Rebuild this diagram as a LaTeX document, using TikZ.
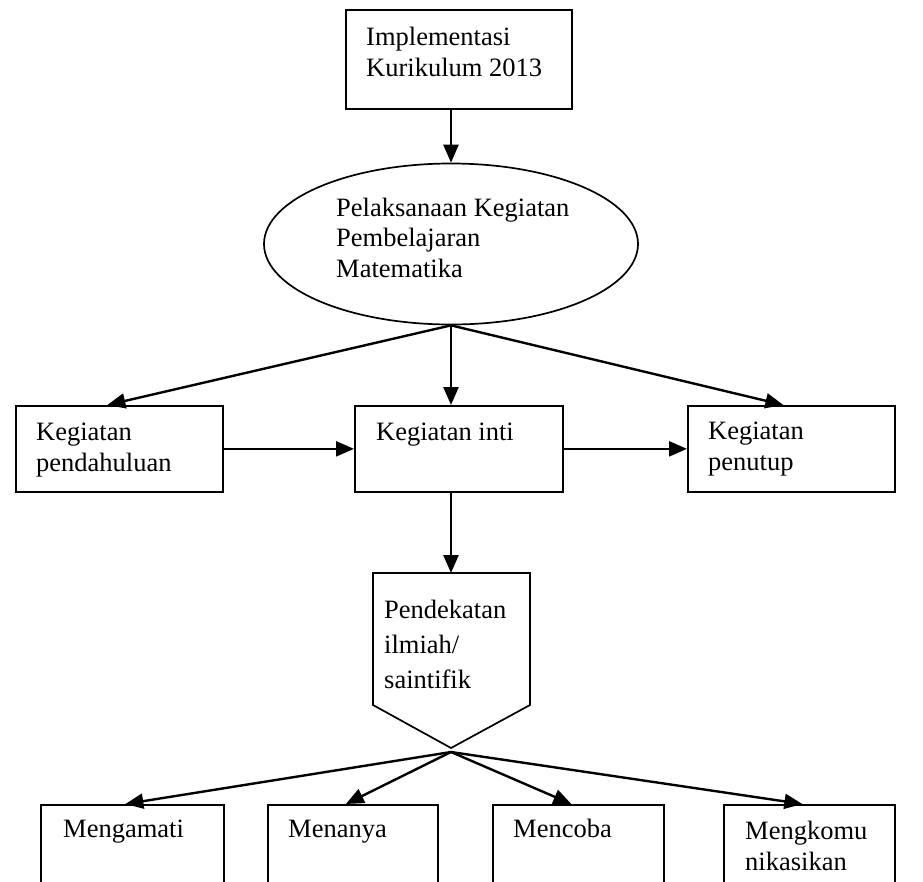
\documentclass[tikz,border=0pt]{standalone}
\usepackage{fontspec}
\setmainfont{Liberation Serif}
\usetikzlibrary{arrows.meta,shapes.geometric}

\tikzset{
  box/.style={draw,line width=1.7pt,inner sep=0,anchor=north west},
  txt/.style={anchor=base west,align=left,inner sep=0,font=\fontsize{26.5}{30.5}\selectfont},
  arr/.style={line width=2.4pt,-{Triangle[length=18pt,width=15pt]}}
}

\begin{document}
\begin{tikzpicture}[x=1pt,y=-1pt]
\useasboundingbox (0,0) rectangle (923,881);
\clip (0,0) rectangle (923,881);
% top
\node[box,minimum width=226,minimum height=99] (impl) at (345,9) {};
\node[txt] (implt) at (366,76) {Implementasi\\Kurikulum 2013};
\node[draw,ellipse,line width=1.7pt,inner sep=0,minimum width=374,minimum height=161] (pkp) at (451,244) {};
\node[txt] (pkpt) at (336,277) {Pelaksanaan Kegiatan\\Pembelajaran\\Matematika};
% kegiatan
\node[box,minimum width=207,minimum height=86] (kpend) at (15,405) {};
\node[box,minimum width=208,minimum height=86] (kinti) at (354,405) {};
\node[box,minimum width=207,minimum height=86] (kpen) at (687,405) {};
\node[txt] (kpendt) at (36,471) {Kegiatan\\pendahuluan};
\node[txt] (kintit) at (376,440) {Kegiatan inti};
\node[txt] (kpent) at (708,470) {Kegiatan\\penutup};
% pendekatan
\draw[line width=1.7pt] (373,573) -- (530,573) -- (530,705) -- (451,748) -- (373,705) -- cycle;
\coordinate (pend) at (451,573);
\coordinate (tip) at (451,752);
\node[txt,font=\fontsize{26.5}{35}\selectfont] (pendt) at (384,688) {Pendekatan\\ilmiah/\\saintifik};
% langkah
\node[box,minimum width=183,minimum height=100] (m1) at (40,804) {};
\node[box,minimum width=170,minimum height=100] (m2) at (267,804) {};
\node[box,minimum width=171,minimum height=100] (m3) at (492,804) {};
\node[box,minimum width=171,minimum height=100] (m4) at (723,804) {};
\node[txt] (m1t) at (63,837) {Mengamati};
\node[txt] (m2t) at (288,837) {Menanya};
\node[txt] (m3t) at (513,837) {Mencoba};
\node[txt] (m4t) at (745,870) {Mengkomu\\nikasikan};
% arrows
\draw[arr] (impl.south -| pkp.north) -- (pkp.north);
\draw[arr] (pkp.south) -- ([xshift=-12]kpend.north);
\draw[arr] (pkp.south) -- (kinti.north -| pkp.south);
\draw[arr] (pkp.south) -- ([xshift=-8]kpen.north);
\draw[arr] (kpend.east) -- (kinti.west);
\draw[arr] (kinti.east) -- (kpen.west);
\draw[arr] (kinti.south -| pend) -- (pend);
\foreach \m in {m1,m2,m3,m4}
  \draw[arr] (tip) -- ([xshift=-7]\m.north);
\end{tikzpicture}
\end{document}
